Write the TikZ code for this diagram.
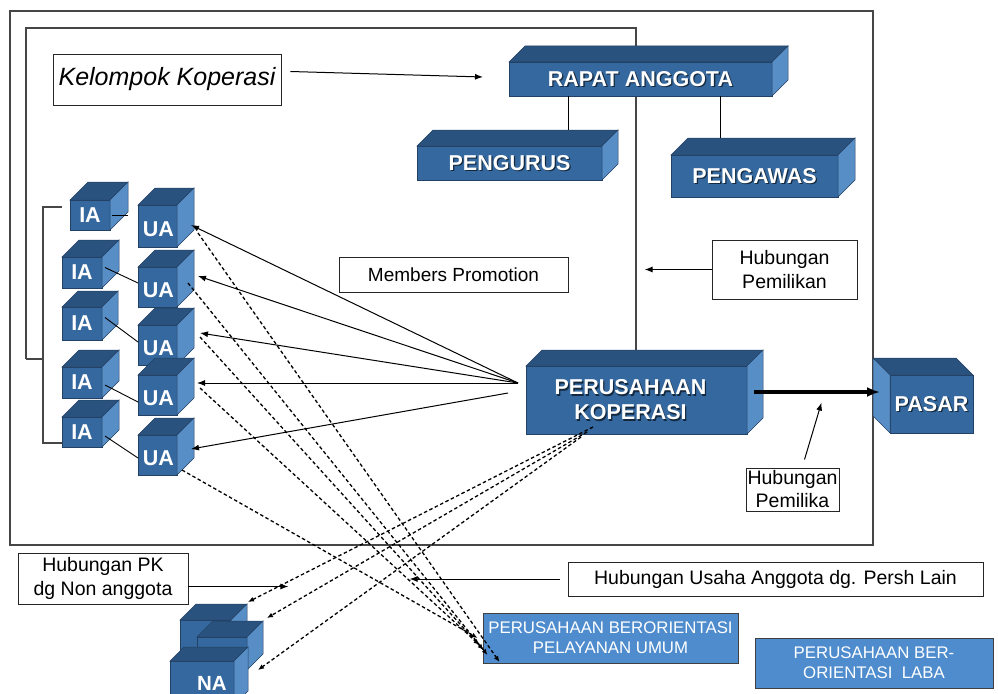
\documentclass[tikz,border=0pt]{standalone}
\usepackage{fontspec}
\setmainfont{Liberation Sans}
\usetikzlibrary{arrows.meta}
\definecolor{frontc}{RGB}{52,104,158}
\definecolor{topc}{RGB}{42,82,126}
\definecolor{sidec}{RGB}{88,142,198}
\definecolor{edgec}{RGB}{35,65,100}
\definecolor{lightbox}{RGB}{78,140,205}
\definecolor{framec}{RGB}{70,70,70}
\newcommand\mkcube[6]{%
 \node[face, minimum width={#4-#2}, minimum height={#5-#3}, anchor=north west] (#1) at (#2,#3) {};
 \filldraw[topf] (#1.north west) -- ++(#6,-#6) -- ([shift={(#6,-#6)}]#1.north east) -- (#1.north east) -- cycle;
 \filldraw[sidef] (#1.north east) -- ([shift={(#6,-#6)}]#1.north east) -- ([shift={(#6,-#6)}]#1.south east) -- (#1.south east) -- cycle;
}
\newcommand\shlab[4]{%
 \node[text=black, opacity=0.6, lblfont, align=center] (#1s) at ([shift={(#3+1.3,1.3)}]#2) {#4};
 \node[text=white, lblfont, align=center] (#1) at ([shift={(#3,0)}]#2) {#4};
}
\begin{document}
\begin{tikzpicture}[x=1pt,y=-1pt,
 face/.style={fill=frontc, draw=edgec, line width=0.5pt, inner sep=0pt, outer sep=0pt},
 topf/.style={fill=topc, draw=edgec, line width=0.5pt},
 sidef/.style={fill=sidec, draw=edgec, line width=0.5pt},
 lblfont/.style={font=\fontsize{21.5}{25}\selectfont\bfseries, inner sep=0pt},
 tbox/.style={draw=black!85, line width=0.9pt, fill=white, inner sep=0pt, align=center, font=\fontsize{19.5}{24}\selectfont},
 bluebox/.style={draw=black!75, line width=0.9pt, fill=lightbox, inner sep=0pt, align=center, text=white, font=\fontsize{16.8}{20}\selectfont},
 arr/.style={-{Latex[length=8pt,width=6pt]}, line width=1pt},
 darr/.style={-{Latex[length=6pt,width=5pt]}, line width=1.3pt, dash pattern=on 3.5pt off 2.5pt},
 cubetxt/.style={text=white, font=\fontsize{21.5}{24}\selectfont\bfseries, inner sep=0pt},
 framel/.style={draw=framec, line width=1.3pt}]
\useasboundingbox (0,0) rectangle (998,693);
\clip (0,0) rectangle (998,693);
% frames
\draw[framel] (10,11) rectangle (873,545);
\draw[framel] (26,359) -- (26,28) -- (636,28) -- (636,350);
\draw[framel] (26,359) -- (43,359);
\draw[framel] (62,207) -- (43,207) -- (43,443) -- (62,443);
% boxes of the organisation
\mkcube{rapat}{509}{62}{772}{96}{16}
\shlab{rapatl}{rapat.center}{0}{RAPAT ANGGOTA}
\mkcube{pengurus}{417}{146}{602}{180}{16}
\shlab{pengurusl}{pengurus.center}{0}{PENGURUS}
\mkcube{pengawas}{671}{155}{838}{197}{17}
\shlab{pengawasl}{pengawas.center}{0}{PENGAWAS}
\draw[line width=0.9pt] ([xshift=-72]rapat.south) -- ++(0,34);
\draw[line width=0.9pt] ([xshift=80]rapat.south) -- ++(0,42);
\mkcube{perus}{526}{366}{747}{434}{16}
\shlab{perusl}{perus.center}{-6}{PERUSAHAAN\\KOPERASI}
% pasar (mirrored)
\node[face, minimum width=83, minimum height=58, anchor=north west] (pasar) at (890,375) {};
\filldraw[topf] (pasar.north west) -- ++(-17,-17) -- ([shift={(-17,-17)}]pasar.north east) -- (pasar.north east) -- cycle;
\filldraw[sidef] (pasar.north west) -- ([shift={(-17,-17)}]pasar.north west) -- ([shift={(-17,-17)}]pasar.south west) -- (pasar.south west) -- cycle;
\shlab{pasarl}{pasar.center}{0}{PASAR}
% IA / UA cubes
\mkcube{ia1}{70}{200}{110}{230}{18}
\node[cubetxt] (ia1t) at (ia1.center) {IA};
\mkcube{ia2}{62}{257}{102}{288}{17}
\node[cubetxt] (ia2t) at (ia2.center) {IA};
\mkcube{ia3}{62}{307}{102}{340}{16}
\node[cubetxt] (ia3t) at (ia3.center) {IA};
\mkcube{ia4}{62}{367}{102}{398}{17}
\node[cubetxt] (ia4t) at (ia4.center) {IA};
\mkcube{ia5}{62}{417}{102}{447}{17}
\node[cubetxt] (ia5t) at (ia5.center) {IA};
\mkcube{ua1}{138}{205}{177}{247}{17}
\node[cubetxt] (ua1t) at ([shift={(1,3)}]ua1.center) {UA};
\mkcube{ua2}{138}{267}{177}{307}{17}
\node[cubetxt] (ua2t) at ([shift={(1,3)}]ua2.center) {UA};
\mkcube{ua3}{138}{325}{177}{365}{17}
\node[cubetxt] (ua3t) at ([shift={(1,3)}]ua3.center) {UA};
\mkcube{ua4}{138}{375}{177}{415}{17}
\node[cubetxt] (ua4t) at ([shift={(1,3)}]ua4.center) {UA};
\mkcube{ua5}{138}{435}{177}{475}{17}
\node[cubetxt] (ua5t) at ([shift={(1,3)}]ua5.center) {UA};
% IA - UA links
\draw[line width=0.9pt] ([xshift=2]ia1.east) -- ++(16,0);
\draw[line width=0.9pt] ([shift={(3,-5)}]ia2.east) -- ([shift={(0,-4)}]ua2.west);
\draw[line width=0.9pt] ([shift={(3,-6)}]ia3.east) -- ([shift={(0,-3)}]ua3.west);
\draw[line width=0.9pt] ([shift={(3,2.5)}]ia4.east) -- ([shift={(0,7)}]ua4.west);
\draw[line width=0.9pt] ([shift={(3,4)}]ia5.east) -- ([shift={(0,3)}]ua5.west);
% NA cubes
\mkcube{na1}{180}{620}{231}{665}{16}
\mkcube{na2}{197}{637}{247}{670}{16}
\mkcube{na3}{170}{661}{234}{705}{14}
\node[cubetxt, font=\fontsize{20.5}{24}\selectfont\bfseries] (na3t) at (212,683) {NA};
% text boxes
\node[tbox, minimum width=228, minimum height=51, font=\fontsize{25}{28}\selectfont\itshape] (kel) at (167,79.5) {Kelompok Koperasi};
\node[tbox, minimum width=229, minimum height=35, font=\fontsize{19}{24}\selectfont] (mp) at (453.5,274.5) {Members Promotion};
\node[tbox, minimum width=145, minimum height=59] (hp1) at (784.5,269.5) {Hubungan\\Pemilikan};
\node[tbox, minimum width=93, minimum height=43, font=\fontsize{19.5}{23}\selectfont] (hp2) at (792.5,489.5) {Hubungan\\Pemilika};
\node[tbox, minimum width=170, minimum height=51] (hpk) at (103,578.5) {Hubungan PK\\dg Non anggota};
\node[tbox, minimum width=415, minimum height=34] (hus) at (775.5,579) {Hubungan Usaha Anggota dg. Persh Lain};
\node[bluebox, minimum width=255, minimum height=50] (pel) at (610.5,638) {PERUSAHAAN BERORIENTASI\\PELAYANAN UMUM};
\node[bluebox, minimum width=238, minimum height=50] (lab) at (874,663) {PERUSAHAAN BER-\\ORIENTASI~~LABA};
% arrows
\draw[arr] ([shift={(9,-8)}]kel.east) -- ([shift={(-26,-2)}]rapat.west);
\draw[arr] (hp1.west) -- ++(-67,0);
\draw[arr] ([shift={(-8,-17)}]perus.west) -- ([shift={(14,-1)}]ua1.east);
\draw[arr] ([shift={(-8,-17)}]perus.west) -- ([shift={(21,-11)}]ua2.east);
\draw[arr] ([shift={(-8,-17)}]perus.west) -- ([shift={(23,-12)}]ua3.east);
\draw[arr] ([shift={(-8,-17)}]perus.west) -- ([shift={(20,-12)}]ua4.east);
\draw[arr] ([shift={(-18,-7)}]perus.west) -- ([shift={(14,-6)}]ua5.east);
\draw[-{Latex[length=13pt,width=10pt]}, line width=3.5pt] ([shift={(7,-8)}]perus.east) -- ([shift={(-10,-12)}]pasar.west);
\draw[arr] ([shift={(12,-8)}]hp2.north) -- ++(17,-57);
\draw[arr] ([yshift=-8]hpk.east) -- ++(100,0);
\draw[arr] ([xshift=-8]hus.west) -- ++(-150,0);
% dashed links
\draw[darr] ([shift={(21,7)}]ua1.east) -- ([shift={(17,24)}]pel.west);
\draw[darr] ([shift={(11,-4)}]ua2.east) -- ([shift={(5,17)}]pel.west);
\draw[darr] ([shift={(23,-8)}]ua3.east) -- ([shift={(1,12)}]pel.west);
\draw[darr] ([shift={(23,-7)}]ua4.east) -- ([shift={(-3,7)}]pel.west);
\draw[darr] ([shift={(5,15)}]ua5.east) -- ([shift={(-5,0)}]pel.west);
\draw[darr] ([shift={(-43.5,-7)}]perus.south) -- ([shift={(17,-18)}]na1.north east);
\draw[darr] ([shift={(-49.5,-2)}]perus.south) -- ([shift={(20,-19)}]na2.north east);
\draw[darr] ([shift={(-55.5,3)}]perus.south) -- ([shift={(11,0)}]na2.south east);
\end{tikzpicture}
\end{document}
